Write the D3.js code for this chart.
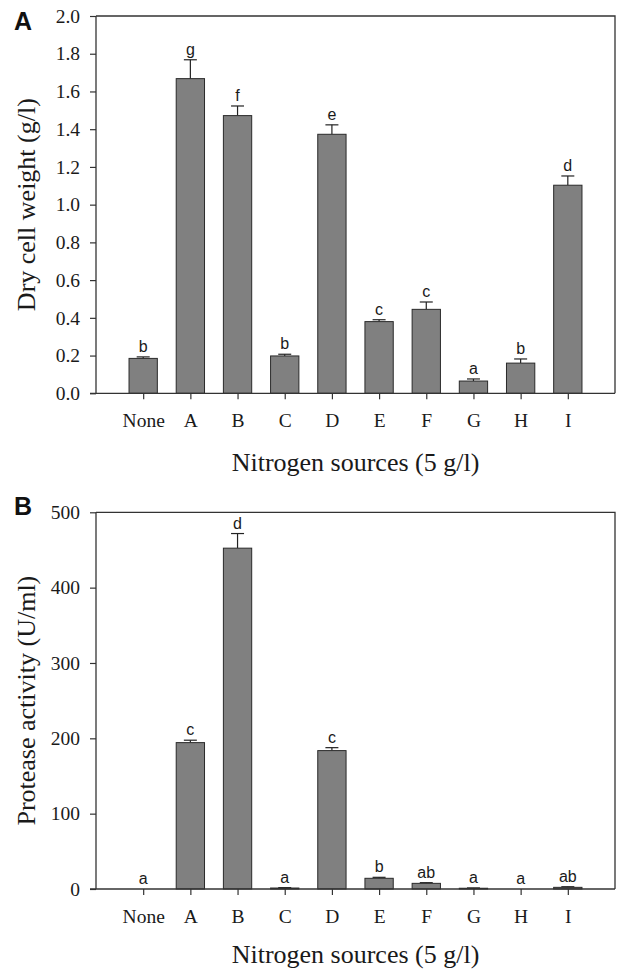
<!DOCTYPE html>
<html>
<head>
<meta charset="utf-8">
<script src="https://cdn.jsdelivr.net/npm/d3@7"></script>
<style>
  body { margin: 0; background: #fff; }
  svg { display: block; }
</style>
</head>
<body>
<svg id="chart" width="620" height="974"></svg>
<script>
// nitrogen sources on the x axis
var categories = ["None", "A", "B", "C", "D", "E", "F", "G", "H", "I"];

// panel A: dry cell weight (g/l)
var dryWeight    = [0.185, 1.668, 1.472, 0.198, 1.373, 0.380, 0.445, 0.065, 0.160, 1.103];
var dryWeightErr = [0.008, 0.100, 0.051, 0.009, 0.050, 0.010, 0.039, 0.011, 0.022, 0.049];
var dryLetters   = ["b", "g", "f", "b", "e", "c", "c", "a", "b", "d"];
var dryTicks     = [0, 0.2, 0.4, 0.6, 0.8, 1.0, 1.2, 1.4, 1.6, 1.8, 2.0];

// panel B: protease activity (U/ml)
var protease     = [0, 194.3, 452.4, 1.3, 183.7, 14.2, 7.5, 1.0, 0, 2.2];
var proteaseErr  = [0, 3.2, 19.4, 0.5, 3.9, 1.3, 0.9, 0.4, 0, 0.8];
var protLetters  = ["a", "c", "d", "a", "c", "b", "ab", "a", "a", "ab"];
var protTicks    = [0, 100, 200, 300, 400, 500];

var serif = "'Liberation Serif', 'Times New Roman', serif",
    sans = "'Liberation Sans', Arial, sans-serif",
    ink = "#1a1a1a",
    left = 96,
    right = 615;

var svg = d3.select("#chart");

function drawPanel(cfg) {
    var g = svg.append("g");

    var x = d3.scalePoint()
        .domain(categories)
        .range([left, right])
        .padding(1);
    var barW = x.step() * 0.6;

    var y = d3.scaleLinear()
        .domain(cfg.domain)
        .range([cfg.bottom, cfg.top]);

    var rows = categories.map(function (c, i) {
        return {cat: c, v: cfg.values[i], e: cfg.errors[i], l: cfg.letters[i]};
    });

    // frame top + right
    g.append("path")
        .attr("d", "M" + left + "," + cfg.top + "H" + right + "V" + cfg.bottom)
        .attr("fill", "none")
        .attr("stroke", "#333")
        .attr("stroke-width", 1.3);

    // error bars (upper half only)
    var eb = g.selectAll(".err")
        .data(rows.filter(function (d) { return d.e > 0; }))
        .enter().append("g");
    eb.append("line")
        .attr("x1", function (d) { return x(d.cat); })
        .attr("x2", function (d) { return x(d.cat); })
        .attr("y1", function (d) { return y(d.v); })
        .attr("y2", function (d) { return y(d.v + d.e); })
        .attr("stroke", "#222").attr("stroke-width", 1.2);
    eb.append("line")
        .attr("x1", function (d) { return x(d.cat) - 6.5; })
        .attr("x2", function (d) { return x(d.cat) + 6.5; })
        .attr("y1", function (d) { return y(d.v + d.e); })
        .attr("y2", function (d) { return y(d.v + d.e); })
        .attr("stroke", "#222").attr("stroke-width", 1.2);

    // bars
    g.selectAll(".bar")
        .data(rows.filter(function (d) { return d.v > 0; }))
        .enter().append("rect")
        .attr("x", function (d) { return x(d.cat) - barW / 2; })
        .attr("y", function (d) { return y(d.v); })
        .attr("width", barW)
        .attr("height", function (d) { return cfg.bottom - y(d.v); })
        .attr("fill", "#808080")
        .attr("stroke", "#2a2a2a")
        .attr("stroke-width", 1);

    // significance letters
    g.selectAll(".lab")
        .data(rows)
        .enter().append("text")
        .attr("x", function (d) { return x(d.cat); })
        .attr("y", function (d) { return y(d.v + d.e) - 5; })
        .attr("text-anchor", "middle")
        .attr("font-family", sans)
        .attr("font-size", 16)
        .attr("fill", ink)
        .text(function (d) { return d.l; });

    // y axis
    var ya = g.append("g")
        .attr("transform", "translate(" + left + ",0)")
        .call(d3.axisLeft(y).tickValues(cfg.ticks).tickFormat(cfg.fmt).tickSize(6).tickPadding(10));
    // x axis
    var xa = g.append("g")
        .attr("transform", "translate(0," + cfg.bottom + ")")
        .call(d3.axisBottom(x).tickSize(6).tickSizeOuter(0));

    [ya, xa].forEach(function (a) {
        a.select(".domain").attr("stroke", "#333").attr("stroke-width", 1.3);
        a.selectAll(".tick line").attr("stroke", "#333").attr("stroke-width", 1.2);
        a.selectAll(".tick text")
            .attr("font-family", serif)
            .attr("font-size", 19.5)
            .attr("fill", ink);
    });
    ya.select(".domain").attr("d", "M0," + cfg.bottom + "V" + cfg.top);
    xa.select(".domain").attr("d", "M" + (left - 6) + ",0H" + right);
    xa.selectAll(".tick text").attr("y", 34).attr("dy", 0);

    // axis titles
    g.append("text")
        .attr("x", (left + right) / 2)
        .attr("y", cfg.titleY)
        .attr("text-anchor", "middle")
        .attr("font-family", serif)
        .attr("font-size", 26)
        .attr("fill", ink)
        .text("Nitrogen sources (5 g/l)");
    g.append("text")
        .attr("transform", "translate(35," + (cfg.top + cfg.bottom) / 2 + ") rotate(-90)")
        .attr("text-anchor", "middle")
        .attr("font-family", serif)
        .attr("font-size", 26)
        .attr("fill", ink)
        .text(cfg.yTitle);

    // panel letter
    g.append("text")
        .attr("x", 14)
        .attr("y", cfg.labelY)
        .attr("font-family", sans)
        .attr("font-weight", "bold")
        .attr("font-size", 25)
        .attr("fill", "#111")
        .text(cfg.label);
}

drawPanel({
    label: "A", labelY: 30,
    top: 16, bottom: 393.3, titleY: 470.5,
    domain: [0, 2], ticks: dryTicks, fmt: d3.format(".1f"),
    values: dryWeight, errors: dryWeightErr, letters: dryLetters,
    yTitle: "Dry cell weight (g/l)"
});

drawPanel({
    label: "B", labelY: 515,
    top: 512.3, bottom: 889, titleY: 963,
    domain: [0, 500], ticks: protTicks, fmt: d3.format("d"),
    values: protease, errors: proteaseErr, letters: protLetters,
    yTitle: "Protease activity (U/ml)"
});
</script>
</body>
</html>
